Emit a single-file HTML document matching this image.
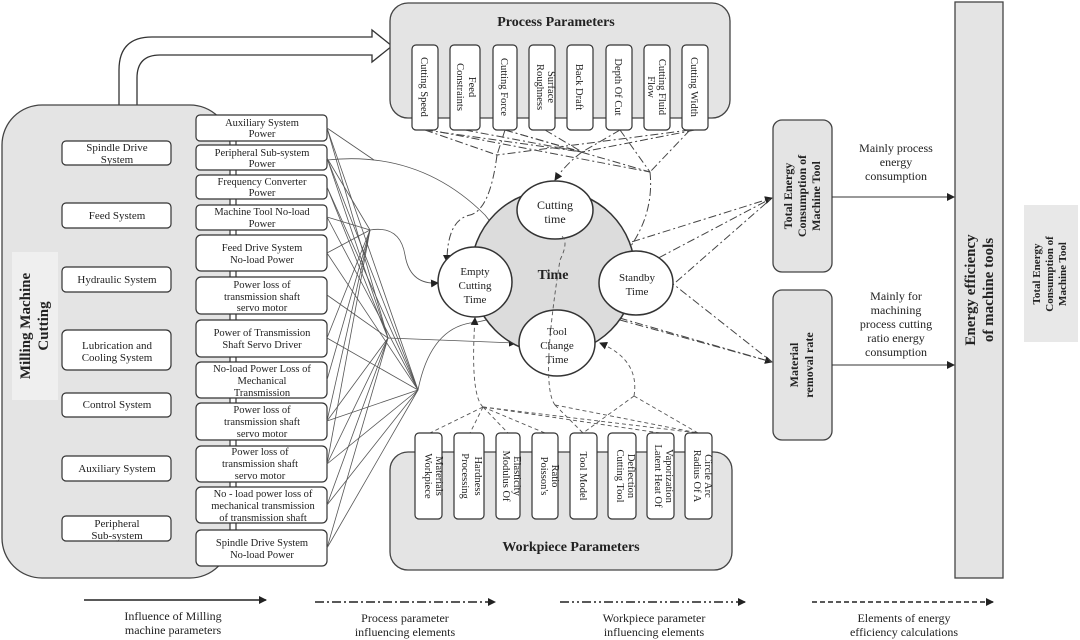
<!DOCTYPE html>
<html><head><meta charset="utf-8"><style>
html,body{margin:0;padding:0;background:#fff}
svg{display:block}
text{font-family:"Liberation Serif",serif;fill:#222}
</style></head><body>
<svg width="1080" height="640" viewBox="0 0 1080 640" xmlns="http://www.w3.org/2000/svg">
<defs>
<marker id="ar" markerWidth="8" markerHeight="8" refX="7" refY="4" orient="auto" markerUnits="userSpaceOnUse"><path d="M0,0 L8,4 L0,8z" fill="#222"/></marker>
</defs>

<!-- hollow arrow top -->
<path d="M119,106 L119,70 Q119,37 152,37 L372,37 L372,30 L392,46 L372,62 L372,55 L160,55 Q137,55 137,78 L137,106" fill="#fff" stroke="#333" stroke-width="1.3"/>

<!-- left container -->
<rect x="2" y="105" width="228" height="473" rx="40" fill="#e4e4e4" stroke="#444" stroke-width="1.3"/>
<rect x="12" y="252" width="46" height="148" fill="#efefef"/>
<text transform="translate(30,326) rotate(-90)" text-anchor="middle" font-size="15" font-weight="bold">Milling Machine</text>
<text transform="translate(48,326) rotate(-90)" text-anchor="middle" font-size="15" font-weight="bold">Cutting</text>

<g fill="#fff" stroke="#333" stroke-width="1.2">
<rect x="62" y="141" width="109" height="24" rx="4"/>
<rect x="62" y="203" width="109" height="25" rx="4"/>
<rect x="62" y="267" width="109" height="25" rx="4"/>
<rect x="62" y="330" width="109" height="40" rx="5"/>
<rect x="62" y="393" width="109" height="24" rx="4"/>
<rect x="62" y="456" width="109" height="25" rx="4"/>
<rect x="62" y="516" width="109" height="25" rx="4"/>
</g>
<g font-size="11" text-anchor="middle">
<text x="117" y="151">Spindle Drive</text><text x="117" y="163">System</text>
<text x="117" y="219">Feed System</text>
<text x="117" y="283">Hydraulic System</text>
<text x="117" y="349">Lubrication and</text><text x="117" y="361">Cooling System</text>
<text x="117" y="408">Control System</text>
<text x="117" y="472">Auxiliary System</text>
<text x="117" y="527">Peripheral</text><text x="117" y="539">Sub-system</text>
</g>

<!-- right column boxes -->
<g stroke="#333" stroke-width="1.2">
<line x1="236" y1="141" x2="236" y2="530"/>
</g>
<g fill="#fff" stroke="#333" stroke-width="1.2">
<rect x="196" y="115" width="131" height="26" rx="4"/>
<rect x="196" y="145" width="131" height="25" rx="4"/>
<rect x="196" y="175" width="131" height="24" rx="4"/>
<rect x="196" y="205" width="131" height="25" rx="4"/>
<rect x="196" y="235" width="131" height="36" rx="5"/>
<rect x="196" y="277" width="131" height="37" rx="5"/>
<rect x="196" y="320" width="131" height="37" rx="5"/>
<rect x="196" y="362" width="131" height="36" rx="5"/>
<rect x="196" y="403" width="131" height="37" rx="5"/>
<rect x="196" y="446" width="131" height="36" rx="5"/>
<rect x="196" y="487" width="131" height="36" rx="5"/>
<rect x="196" y="530" width="131" height="36" rx="5"/>
</g>
<g font-size="10.5" text-anchor="middle">
<text x="262" y="126">Auxiliary System</text><text x="262" y="137">Power</text>
<text x="262" y="156">Peripheral Sub-system</text><text x="262" y="167">Power</text>
<text x="262" y="185">Frequency Converter</text><text x="262" y="196">Power</text>
<text x="262" y="215">Machine Tool No-load</text><text x="262" y="227">Power</text>
<text x="262" y="251">Feed Drive System</text><text x="262" y="263">No-load Power</text>
<text x="262" y="288">Power loss of</text><text x="262" y="300">transmission shaft</text><text x="262" y="311">servo motor</text>
<text x="262" y="336">Power of Transmission</text><text x="262" y="348">Shaft Servo Driver</text>
<text x="262" y="372">No-load Power Loss of</text><text x="262" y="384">Mechanical</text><text x="262" y="396">Transmission</text>
<text x="262" y="413">Power loss of</text><text x="262" y="425">transmission shaft</text><text x="262" y="437">servo motor</text>
<text x="260" y="455">Power loss of</text><text x="260" y="467">transmission shaft</text><text x="260" y="479">servo motor</text>
<text x="263" y="497">No - load power loss of</text><text x="263" y="509">mechanical transmission</text><text x="263" y="521">of transmission shaft</text>
<text x="262" y="546">Spindle Drive System</text><text x="262" y="558">No-load Power</text>
</g>

<!-- fan lines -->
<g stroke="#555" stroke-width="0.8" fill="none">
<line x1="327" y1="128" x2="418" y2="390"/><line x1="327" y1="128" x2="388" y2="338"/><line x1="327" y1="128" x2="374" y2="160"/>
<line x1="327" y1="158" x2="418" y2="390"/><line x1="327" y1="158" x2="388" y2="338"/><line x1="327" y1="158" x2="370" y2="230"/>
<line x1="327" y1="187" x2="418" y2="390"/><line x1="327" y1="187" x2="388" y2="338"/>
<line x1="327" y1="217" x2="418" y2="390"/><line x1="327" y1="217" x2="370" y2="230"/>
<line x1="327" y1="253" x2="370" y2="230"/><line x1="327" y1="253" x2="418" y2="390"/>
<line x1="327" y1="295" x2="388" y2="338"/>
<line x1="327" y1="338" x2="418" y2="390"/><line x1="327" y1="338" x2="370" y2="230"/>
<line x1="327" y1="380" x2="370" y2="230"/>
<line x1="327" y1="421" x2="388" y2="338"/><line x1="327" y1="421" x2="370" y2="230"/><line x1="327" y1="421" x2="418" y2="390"/>
<line x1="327" y1="464" x2="388" y2="338"/><line x1="327" y1="464" x2="370" y2="230"/><line x1="327" y1="464" x2="418" y2="390"/>
<line x1="327" y1="505" x2="388" y2="338"/><line x1="327" y1="505" x2="418" y2="390"/>
<line x1="327" y1="548" x2="388" y2="338"/><line x1="327" y1="548" x2="418" y2="390"/>
<path d="M327,160 Q420,150 485,215 Q510,250 600,282" marker-end="url(#ar)"/>
<path d="M370,230 Q400,225 405,255 Q410,285 438,283" marker-end="url(#ar)"/>
<line x1="388" y1="338" x2="516" y2="343" marker-end="url(#ar)"/>
<path d="M418,390 Q430,330 470,323 Q540,315 555,235" marker-end="url(#ar)"/>
</g>

<!-- Process parameters -->
<rect x="390" y="3" width="340" height="115" rx="18" fill="#e4e4e4" stroke="#444" stroke-width="1.3"/>
<text x="556" y="26" text-anchor="middle" font-size="14" font-weight="bold">Process Parameters</text>
<g fill="#fff" stroke="#333" stroke-width="1.2">
<rect x="412" y="45" width="26" height="85" rx="4"/>
<rect x="450" y="45" width="30" height="85" rx="4"/>
<rect x="493" y="45" width="24" height="85" rx="4"/>
<rect x="529" y="45" width="26" height="85" rx="4"/>
<rect x="567" y="45" width="26" height="85" rx="4"/>
<rect x="606" y="45" width="26" height="85" rx="4"/>
<rect x="644" y="45" width="26" height="85" rx="4"/>
<rect x="682" y="45" width="26" height="85" rx="4"/>
</g>
<g font-size="10.5" text-anchor="middle">
<text transform="translate(421,87) rotate(90)">Cutting Speed</text>
<text transform="translate(457,87) rotate(90)">Constraints</text><text transform="translate(469,87) rotate(90)">Feed</text>
<text transform="translate(501,87) rotate(90)">Cutting Force</text>
<text transform="translate(537,87) rotate(90)">Roughness</text><text transform="translate(548,87) rotate(90)">Surface</text>
<text transform="translate(576,87) rotate(90)">Back Draft</text>
<text transform="translate(615,87) rotate(90)">Depth Of Cut</text>
<text transform="translate(648,87) rotate(90)">Flow</text><text transform="translate(659,87) rotate(90)">Cutting Fluid</text>
<text transform="translate(691,87) rotate(90)">Cutting Width</text>
</g>

<!-- process dash lines -->
<g stroke="#444" stroke-width="1" fill="none" stroke-dasharray="8,3,2,3">
<line x1="425" y1="130" x2="582" y2="152"/><line x1="465" y1="130" x2="582" y2="152"/><line x1="505" y1="130" x2="582" y2="152"/>
<line x1="545" y1="130" x2="582" y2="152"/><line x1="620" y1="130" x2="582" y2="152"/><line x1="695" y1="130" x2="582" y2="152"/>
<line x1="440" y1="132" x2="650" y2="172"/><line x1="505" y1="130" x2="650" y2="172"/><line x1="620" y1="130" x2="650" y2="172"/><line x1="690" y1="130" x2="650" y2="172"/>
<line x1="425" y1="130" x2="497" y2="155"/><line x1="690" y1="130" x2="497" y2="155"/><line x1="505" y1="130" x2="497" y2="155"/>
<path d="M497,155 Q490,210 470,215 Q447,220 447,262" marker-end="url(#ar)"/>
<path d="M582,152 Q565,165 555,180" marker-end="url(#ar)"/>
<path d="M650,172 Q655,220 620,260"/>
<line x1="510" y1="280" x2="772" y2="198" marker-end="url(#ar)"/>
<line x1="560" y1="310" x2="772" y2="198"/>
<line x1="676" y1="282" x2="772" y2="198"/>
<line x1="512" y1="287" x2="772" y2="362" marker-end="url(#ar)"/>
<line x1="630" y1="250" x2="772" y2="362"/>
<line x1="620" y1="320" x2="772" y2="362"/>
</g>

<!-- central time -->
<circle cx="553" cy="272" r="82" fill="#dcdcdc" stroke="#333" stroke-width="1.5"/>
<g fill="#fff" stroke="#333" stroke-width="1.5">
<ellipse cx="555" cy="210" rx="38" ry="29"/>
<ellipse cx="475" cy="282" rx="37" ry="35"/>
<ellipse cx="636" cy="283" rx="37" ry="32"/>
<ellipse cx="557" cy="343" rx="38" ry="33"/>
</g>
<text x="553" y="279" text-anchor="middle" font-size="14" font-weight="bold">Time</text>
<g font-size="12" text-anchor="middle">
<text x="555" y="209">Cutting</text><text x="555" y="223">time</text>
<text x="475" y="275" font-size="11">Empty</text><text x="475" y="289" font-size="11">Cutting</text><text x="475" y="303" font-size="11">Time</text>
<text x="637" y="281" font-size="11">Standby</text><text x="637" y="295" font-size="11">Time</text>
<text x="557" y="335" font-size="11">Tool</text><text x="557" y="349" font-size="11">Change</text><text x="557" y="363" font-size="11">Time</text>
</g>

<!-- workpiece dash lines -->
<g stroke="#555" stroke-width="0.9" fill="none" stroke-dasharray="4,3">
<line x1="483" y1="407" x2="430" y2="433"/><line x1="483" y1="407" x2="470" y2="433"/><line x1="483" y1="407" x2="508" y2="433"/>
<line x1="483" y1="407" x2="545" y2="433"/><line x1="483" y1="407" x2="698" y2="433"/><line x1="483" y1="407" x2="660" y2="433"/>
<line x1="555" y1="405" x2="583" y2="433"/><line x1="555" y1="405" x2="698" y2="433"/>
<line x1="634" y1="396" x2="698" y2="433"/><line x1="634" y1="396" x2="583" y2="433"/>
<path d="M483,407 Q470,395 475,318" marker-end="url(#ar)"/>
<path d="M555,405 Q540,385 560,260 Q570,240 560,235"/>
<path d="M634,396 Q640,360 600,343" marker-end="url(#ar)"/>
</g>

<!-- Workpiece parameters -->
<rect x="390" y="452" width="342" height="118" rx="18" fill="#e4e4e4" stroke="#444" stroke-width="1.3"/>
<text x="571" y="551" text-anchor="middle" font-size="14" font-weight="bold">Workpiece Parameters</text>
<g fill="#fff" stroke="#333" stroke-width="1.2">
<rect x="415" y="433" width="27" height="86" rx="4"/>
<rect x="454" y="433" width="30" height="86" rx="4"/>
<rect x="496" y="433" width="24" height="86" rx="4"/>
<rect x="532" y="433" width="26" height="86" rx="4"/>
<rect x="570" y="433" width="27" height="86" rx="4"/>
<rect x="608" y="433" width="28" height="86" rx="4"/>
<rect x="647" y="433" width="27" height="86" rx="4"/>
<rect x="685" y="433" width="27" height="86" rx="4"/>
</g>
<g font-size="10.5" text-anchor="middle">
<text transform="translate(425,476) rotate(90)">Workpiece</text><text transform="translate(436,476) rotate(90)" dx="0">Materials</text>
<text transform="translate(462,476) rotate(90)">Processing</text><text transform="translate(475,476) rotate(90)">Hardness</text>
<text transform="translate(503,476) rotate(90)">Modulus Of</text><text transform="translate(514,476) rotate(90)">Elasticity</text>
<text transform="translate(541,476) rotate(90)">Poisson's</text><text transform="translate(552,476) rotate(90)">Ratio</text>
<text transform="translate(580,476) rotate(90)">Tool Model</text>
<text transform="translate(617,476) rotate(90)">Cutting Tool</text><text transform="translate(628,476) rotate(90)">Deflection</text>
<text transform="translate(655,476) rotate(90)">Latent Heat Of</text><text transform="translate(666,476) rotate(90)">Vaporization</text>
<text transform="translate(694,476) rotate(90)">Radius Of A</text><text transform="translate(705,476) rotate(90)">Circle Arc</text>
</g>

<!-- right side -->
<rect x="773" y="120" width="59" height="152" rx="9" fill="#e4e4e4" stroke="#444" stroke-width="1.3"/>
<rect x="773" y="290" width="59" height="150" rx="9" fill="#e4e4e4" stroke="#444" stroke-width="1.3"/>
<g font-size="12" font-weight="bold" text-anchor="middle">
<text transform="translate(792,196) rotate(-90)">Total Energy</text>
<text transform="translate(806,196) rotate(-90)">Consumption of</text>
<text transform="translate(820,196) rotate(-90)">Machine Tool</text>
<text transform="translate(798,365) rotate(-90)">Material</text>
<text transform="translate(813,365) rotate(-90)">removal rate</text>
</g>
<rect x="955" y="2" width="48" height="576" fill="#e4e4e4" stroke="#444" stroke-width="1.3"/>
<g font-size="15" font-weight="bold" text-anchor="middle">
<text transform="translate(975,290) rotate(-90)">Energy efficiency</text>
<text transform="translate(993,290) rotate(-90)">of machine tools</text>
</g>
<rect x="1024" y="205" width="54" height="137" fill="#e8e8e8"/>
<g font-size="11" font-weight="bold" text-anchor="middle">
<text transform="translate(1040,274) rotate(-90)">Total Energy</text>
<text transform="translate(1053,274) rotate(-90)">Consumption of</text>
<text transform="translate(1066,274) rotate(-90)">Machine Tool</text>
</g>
<g stroke="#333" stroke-width="1">
<line x1="832" y1="197" x2="954" y2="197" marker-end="url(#ar)"/>
<line x1="832" y1="365" x2="954" y2="365" marker-end="url(#ar)"/>
</g>
<g font-size="12" text-anchor="middle">
<text x="896" y="152">Mainly process</text><text x="896" y="166">energy</text><text x="896" y="180">consumption</text>
<text x="896" y="300">Mainly for</text><text x="896" y="314">machining</text><text x="896" y="328">process cutting</text><text x="896" y="342">ratio energy</text><text x="896" y="356">consumption</text>
</g>

<!-- legend -->
<g stroke="#222" stroke-width="1.5">
<line x1="84" y1="600" x2="266" y2="600" marker-end="url(#ar)"/>
<line x1="315" y1="602" x2="495" y2="602" stroke-dasharray="9,3,2,3" marker-end="url(#ar)"/>
<line x1="560" y1="602" x2="745" y2="602" stroke-dasharray="9,3,2,3,2,3" marker-end="url(#ar)"/>
<line x1="812" y1="602" x2="993" y2="602" stroke-dasharray="5,3" marker-end="url(#ar)"/>
</g>
<g font-size="12" text-anchor="middle">
<text x="173" y="620">Influence of Milling</text><text x="173" y="634">machine parameters</text>
<text x="405" y="622">Process parameter</text><text x="405" y="636">influencing elements</text>
<text x="654" y="622">Workpiece parameter</text><text x="654" y="636">influencing elements</text>
<text x="904" y="622">Elements of energy</text><text x="904" y="636">efficiency calculations</text>
</g>
</svg>
</body></html>
